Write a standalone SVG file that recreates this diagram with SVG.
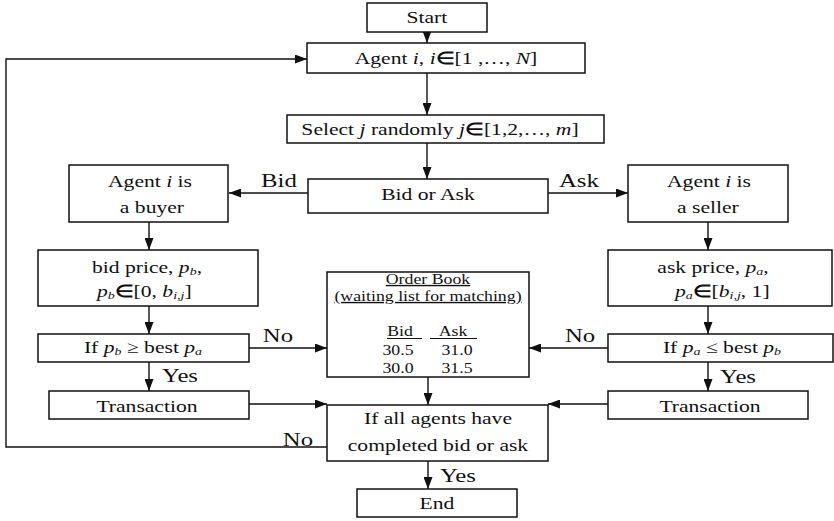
<svg xmlns="http://www.w3.org/2000/svg" width="834" height="521" viewBox="0 0 834 521">
<defs>
<style>
.b{fill:#fff;stroke:#111;stroke-width:1.5}
.c{fill:none;stroke:#111;stroke-width:1.4}
text{font-family:"Liberation Serif","Times New Roman",serif;font-size:17px;fill:#111;text-anchor:middle;transform-box:fill-box;transform-origin:center;transform:scaleX(1.27)}
.l{font-size:19.5px}
.s{font-size:14px}
.i{font-style:italic}
.e{font-weight:bold}
.sub{font-size:11px;font-style:italic}
</style>
<marker id="a" viewBox="0 0 12 10" refX="12" refY="5" markerWidth="12" markerHeight="9" markerUnits="userSpaceOnUse" orient="auto" preserveAspectRatio="none"><path d="M0,0L12,5L0,10z" fill="#111"/></marker>
</defs>
<rect width="834" height="521" fill="#fff"/>
<g id="connectors">
<path class="c" d="M427,32V43" marker-end="url(#a)"/>
<path class="c" d="M427,73V115" marker-end="url(#a)"/>
<path class="c" d="M427,143V179" marker-end="url(#a)"/>
<path class="c" d="M308,193H229" marker-end="url(#a)"/>
<path class="c" d="M548,193H628" marker-end="url(#a)"/>
<path class="c" d="M149,222V250" marker-end="url(#a)"/>
<path class="c" d="M708,222V250" marker-end="url(#a)"/>
<path class="c" d="M149,306V334" marker-end="url(#a)"/>
<path class="c" d="M708,306V334" marker-end="url(#a)"/>
<path class="c" d="M249,348H327" marker-end="url(#a)"/>
<path class="c" d="M608,348H529" marker-end="url(#a)"/>
<path class="c" d="M149,362V391" marker-end="url(#a)"/>
<path class="c" d="M708,362V391" marker-end="url(#a)"/>
<path class="c" d="M249,404H327" marker-end="url(#a)"/>
<path class="c" d="M608,404H548" marker-end="url(#a)"/>
<path class="c" d="M428,377V405" marker-end="url(#a)"/>
<path class="c" d="M428,461V489" marker-end="url(#a)"/>
<path class="c" d="M327,447H6V59H307" marker-end="url(#a)"/>
<text class="l" x="279" y="187">Bid</text>
<text class="l" x="579" y="187">Ask</text>
<text class="l" x="278" y="342">No</text>
<text class="l" x="580" y="342">No</text>
<text class="l" x="180" y="382">Yes</text>
<text class="l" x="738" y="383">Yes</text>
<text class="l" x="298" y="446">No</text>
<text class="l" x="458" y="482">Yes</text>
</g>
<g id="start"><rect class="b" x="367" y="3" width="120" height="29"/><text x="427" y="23">Start</text></g>
<g id="agent"><rect class="b" x="307" y="43" width="278" height="30"/><text x="446" y="64">Agent <tspan class="i">i</tspan>, <tspan class="i">i</tspan><tspan class="e">∈</tspan>[1 ,…, <tspan class="i">N</tspan>]</text></g>
<g id="select"><rect class="b" x="287" y="115" width="317" height="28"/><text x="440" y="135">Select <tspan class="i">j</tspan> randomly <tspan class="i">j</tspan><tspan class="e">∈</tspan>[1,2,…, <tspan class="i">m</tspan>]</text></g>
<g id="bidorask"><rect class="b" x="308" y="179" width="240" height="34"/><text x="428" y="200">Bid or Ask</text></g>
<g id="buyer"><rect class="b" x="69" y="165" width="159" height="57"/><text x="150" y="187">Agent <tspan class="i">i</tspan> is</text><text x="152" y="213">a buyer</text></g>
<g id="seller"><rect class="b" x="628" y="165" width="160" height="57"/><text x="709" y="187">Agent <tspan class="i">i</tspan> is</text><text x="708" y="213">a seller</text></g>
<g id="bidprice"><rect class="b" x="38" y="250" width="220" height="56"/><text x="147" y="273">bid price, <tspan class="i">p</tspan><tspan class="sub" dy="2">b</tspan><tspan dy="-2">,</tspan></text><text x="144" y="297"><tspan class="i">p</tspan><tspan class="sub" dy="2">b</tspan><tspan class="e" dy="-2">∈</tspan>[0, <tspan class="i">b</tspan><tspan class="sub" dy="2">i,j</tspan><tspan dy="-2">]</tspan></text></g>
<g id="askprice"><rect class="b" x="608" y="250" width="224" height="56"/><text x="713" y="273">ask price, <tspan class="i">p</tspan><tspan class="sub" dy="2">a</tspan><tspan dy="-2">,</tspan></text><text x="722" y="297"><tspan class="i">p</tspan><tspan class="sub" dy="2">a</tspan><tspan class="e" dy="-2">∈</tspan>[<tspan class="i">b</tspan><tspan class="sub" dy="2">i,j</tspan><tspan dy="-2">, 1]</tspan></text></g>
<g id="ifpb"><rect class="b" x="38" y="334" width="211" height="28"/><text x="143" y="353">If <tspan class="i">p</tspan><tspan class="sub" dy="2">b</tspan><tspan dy="-2"> ≥ best </tspan><tspan class="i">p</tspan><tspan class="sub" dy="2">a</tspan></text></g>
<g id="ifpa"><rect class="b" x="608" y="334" width="225" height="28"/><text x="722" y="353">If <tspan class="i">p</tspan><tspan class="sub" dy="2">a</tspan><tspan dy="-2"> ≤ best </tspan><tspan class="i">p</tspan><tspan class="sub" dy="2">b</tspan></text></g>
<g id="orderbook"><rect class="b" x="327" y="272" width="202" height="105"/>
<text class="s" x="428" y="284" text-decoration="underline">Order Book</text>
<text class="s" x="428" y="301" text-decoration="underline">(waiting list for matching)</text>
<text class="s" x="400" y="336">Bid</text><text class="s" x="453" y="336">Ask</text>
<path d="M387,338.5H422M430,338.5H477" stroke="#111" stroke-width="1"/>
<text class="s" x="398" y="355">30.5</text><text class="s" x="457" y="355">31.0</text>
<text class="s" x="398" y="373">30.0</text><text class="s" x="457" y="373">31.5</text></g>
<g id="transL"><rect class="b" x="49" y="391" width="200" height="28"/><text x="147" y="412">Transaction</text></g>
<g id="transR"><rect class="b" x="608" y="391" width="200" height="28"/><text x="710" y="412">Transaction</text></g>
<g id="ifall"><rect class="b" x="327" y="405" width="221" height="56"/><text x="438" y="424">If all agents have</text><text x="438" y="451">completed bid or ask</text></g>
<g id="end"><rect class="b" x="357" y="489" width="160" height="28"/><text x="437" y="509">End</text></g>
</svg>
